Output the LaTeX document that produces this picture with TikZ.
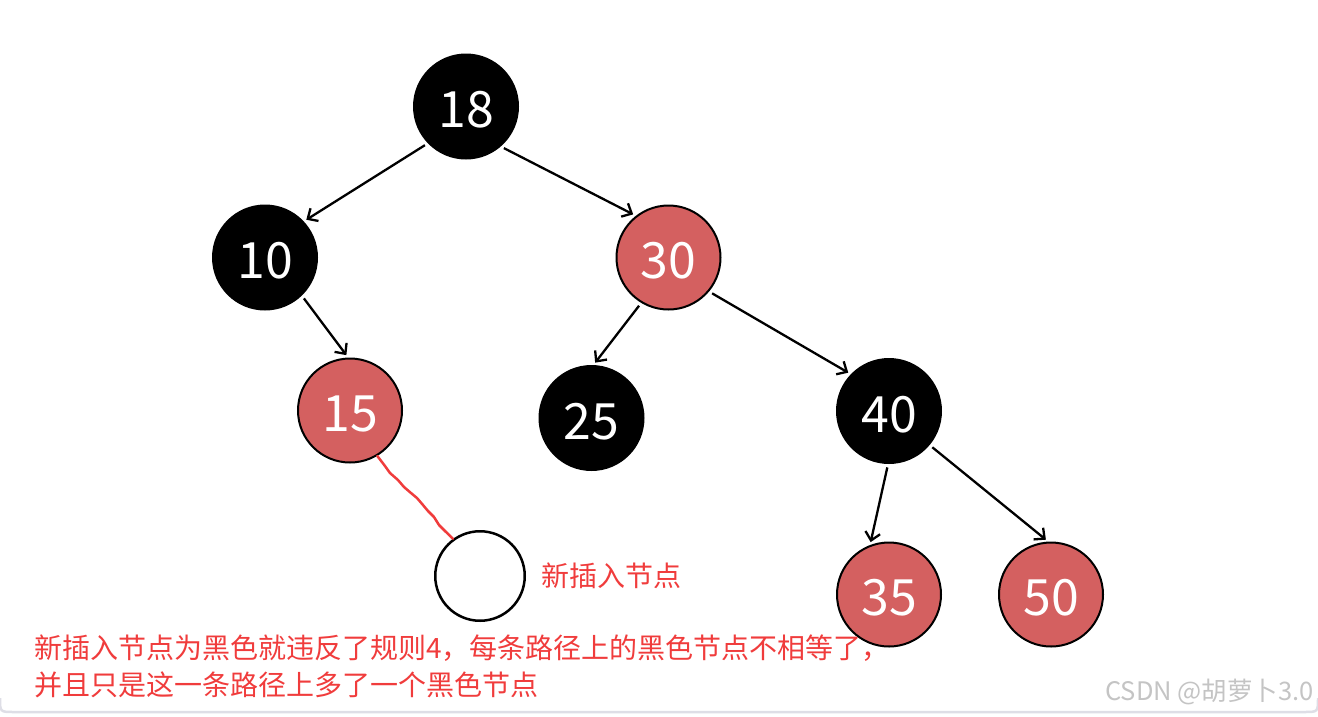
\documentclass[tikz,border=0pt]{standalone}
\usepackage{fontspec}
\setmainfont{Noto Sans CJK SC}
\usetikzlibrary{arrows.meta}
\definecolor{nodered}{RGB}{212,96,96}
\definecolor{txtred}{RGB}{240,60,60}
\definecolor{framegray}{RGB}{222,222,230}
\definecolor{wmgray}{RGB}{196,196,196}
\tikzset{
  rbnode/.style={circle,draw=black,line width=2pt,minimum size=104pt,inner sep=0pt},
  blacknode/.style={rbnode,fill=black},
  rednode/.style={rbnode,fill=nodered},
  newnode/.style={circle,draw=black,fill=white,line width=2.5pt,minimum size=89.5pt,inner sep=0pt},
  num/.style={inner sep=0pt,text=white,font=\fontsize{50}{50}\selectfont},
  treeedge/.style={draw=black,line width=2.3pt,-{Straight Barb[length=8pt,width=15pt,line width=2.3pt]},shorten <=3.5pt,shorten >=3pt},
  redline/.style={draw=txtred,line width=2.5pt,line join=round,line cap=round},
  note/.style={inner sep=0pt,text=txtred,font=\fontsize{28}{28}\selectfont,anchor=base west},
  wm/.style={inner sep=0pt,text=wmgray,font=\fontsize{25.5}{25.5}\selectfont,anchor=base east}
}
\begin{document}
\begin{tikzpicture}[x=1pt,y=-1pt]
\useasboundingbox (0,0) rectangle (1318,716);
% frame shadow at bottom
\draw[framegray,line width=2.5pt] (0,698) .. controls (0,712) .. (14,712) -- (1304,712) .. controls (1318,712) .. (1318,698);
% nodes
\node[blacknode] (n18) at (466,106.5) {};
\node[blacknode] (n10) at (265,257.5) {};
\node[rednode]   (n30) at (668.5,257.5) {};
\node[rednode]   (n15) at (350,410.5) {};
\node[blacknode] (n25) at (591.5,418) {};
\node[blacknode] (n40) at (889,411) {};
\node[rednode]   (n35) at (889,594.5) {};
\node[rednode]   (n50) at (1051,594.5) {};
\node[newnode]   (nw)  at (480,576) {};
% numbers
\node[num] (t18) at ([yshift=-3.5pt]n18.center) {18};
\node[num] (t10) at ([yshift=-3.5pt]n10.center) {10};
\node[num] (t30) at ([yshift=-3.5pt]n30.center) {30};
\node[num] (t15) at ([yshift=-3.5pt]n15.center) {15};
\node[num] (t25) at ([yshift=-3.5pt]n25.center) {25};
\node[num] (t40) at ([yshift=-3.5pt]n40.center) {40};
\node[num] (t35) at ([yshift=-3.5pt]n35.center) {35};
\node[num] (t50) at ([yshift=-3.5pt]n50.center) {50};
% edges
\draw[treeedge] (n18.-136) -- (n10.43);
\draw[treeedge] (n18.-49.6) -- (n30.128.6);
\draw[treeedge] (n10.-46.7) -- (n15.92);
\draw[treeedge] (n30.-121.6) -- (n25.88);
\draw[treeedge] (n30.-40.8) -- (n40.136);
\draw[treeedge] (n40.-91) -- (n35.111);
\draw[treeedge] (n40.-40.8) -- (n50.93.4);
% red hand-drawn link
\draw[redline] (n15.-59) -- (385,466) -- (390,473) -- (398,480) -- (404,487) -- (411,493) -- (417,498) -- (423,505) -- (428,511) -- (434,517) -- (439,525) -- (445,531) -- (nw.126);
% texts
\node[note] (lbl) at (541.5,586) {新插入节点};
\node[note] (line1) at (34,658.5) {新插入节点为黑色就违反了规则4，每条路径上的黑色节点不相等了，};
\node[note] (line2) at (34,695.5) {并且只是这一条路径上多了一个黑色节点};
\node[wm] (wmk) at (1314,700) {CSDN @胡萝卜3.0};
\end{tikzpicture}
\end{document}
